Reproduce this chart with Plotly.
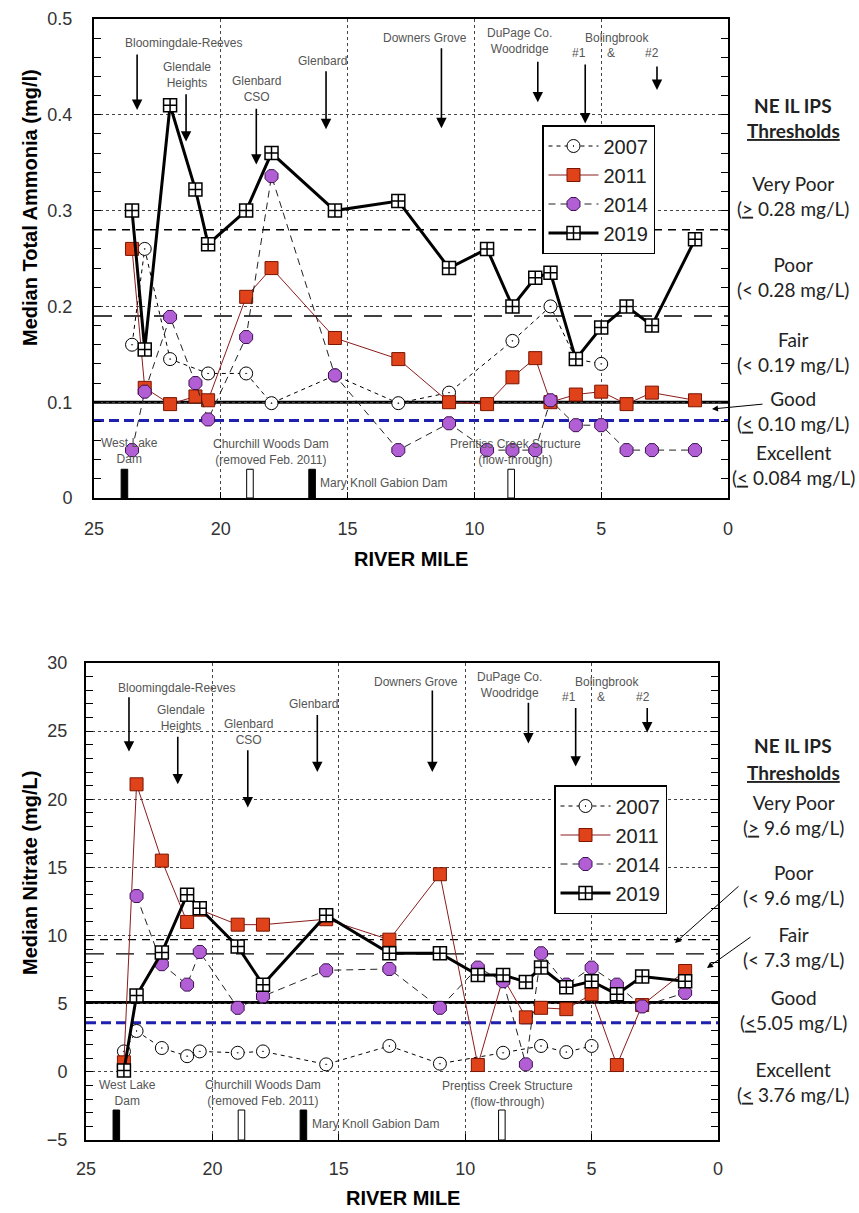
import plotly.graph_objects as go

W, H = 859, 1213

# ---------------- data ----------------
miles = [23.5, 23.0, 22.0, 21.0, 20.5, 19.0, 18.0, 15.5, 13.0, 11.0, 9.5, 8.5, 7.6, 7.0, 6.0, 5.0, 4.0, 3.0, 1.3]

# Ammonia (mg/l)
nh3_2007_miles = [23.5, 23.0, 22.0, 20.5, 19.0, 18.0, 15.5, 13.0, 11.0, 8.5, 7.0, 6.0, 5.0]
nh3_2007 = [0.16, 0.26, 0.145, 0.13, 0.13, 0.099, 0.128, 0.099, 0.11, 0.164, 0.20, 0.145, 0.14]
nh3_2011 = [0.26, 0.115, 0.098, 0.106, 0.102, 0.21, 0.24, 0.167, 0.145, 0.10, 0.098, 0.126, 0.146, 0.10, 0.108, 0.111, 0.098, 0.11, 0.102]
nh3_2014 = [0.05, 0.111, 0.189, 0.12, 0.082, 0.168, 0.336, 0.128, 0.05, 0.078, 0.05, 0.05, 0.05, 0.102, 0.076, 0.076, 0.05, 0.05, 0.05]
nh3_2019 = [0.30, 0.155, 0.41, 0.322, 0.265, 0.30, 0.36, 0.30, 0.31, 0.24, 0.26, 0.20, 0.23, 0.235, 0.145, 0.178, 0.20, 0.18, 0.27]
nh3_thresholds = [0.28, 0.19, 0.10, 0.081]

# Nitrate (mg/L)
no3_2007_miles = [23.5, 23.0, 22.0, 21.0, 20.5, 19.0, 18.0, 15.5, 13.0, 11.0, 8.5, 7.0, 6.0, 5.0]
no3_2007 = [1.5, 3.0, 1.75, 1.15, 1.5, 1.4, 1.5, 0.55, 1.9, 0.6, 1.4, 1.9, 1.45, 1.9]
no3_2011 = [0.7, 21.1, 15.5, 11.0, 11.9, 10.8, 10.8, 11.2, 9.7, 14.5, 0.5, 6.9, 4.0, 4.7, 4.6, 5.7, 0.5, 4.9, 7.4]
no3_2014_miles = [23.0, 22.0, 21.0, 20.5, 19.0, 18.0, 15.5, 13.0, 11.0, 9.5, 8.5, 7.6, 7.0, 6.0, 5.0, 4.0, 3.0, 1.3]
no3_2014 = [12.9, 7.9, 6.4, 8.8, 4.7, 5.55, 7.45, 7.55, 4.7, 7.65, 6.65, 0.55, 8.7, 6.4, 7.65, 6.4, 4.8, 5.8]
no3_2019 = [0.1, 5.6, 8.75, 13.0, 12.0, 9.2, 6.4, 11.5, 8.7, 8.7, 7.1, 7.1, 6.6, 7.65, 6.2, 6.65, 5.7, 7.0, 6.65]
no3_thresholds = [9.7, 8.65, 5.08, 3.6]

years = ["2007", "2011", "2014", "2019"]

# discharge / site locations (river mile) and dam locations
site_names = ["Bloomingdale-Reeves", "Glendale<br>Heights", "Glenbard<br>CSO", "Glenbard",
              "Downers Grove", "DuPage Co.<br>Woodridge", "#1", "#2"]
site_miles = [23.3, 21.37, 18.6, 15.85, 11.3, 7.5, 5.63, 2.8]
dam_miles = [23.8, 18.85, 16.4, 8.55]
dam_filled = [True, False, True, False]

x_ticks = [25, 20, 15, 10, 5, 0]

# ---------------- styles ----------------
styles = {
    "2007": dict(line=dict(color="black", width=1, dash="4px,4px"),
                 marker=dict(symbol="circle-dot", size=13, color="white", line=dict(color="black", width=1))),
    "2011": dict(line=dict(color="#8b1c1c", width=1),
                 marker=dict(symbol="square", size=13, color="#e0421a", line=dict(color="#7a1500", width=1))),
    "2014": dict(line=dict(color="#222", width=1, dash="7px,5px"),
                 marker=dict(symbol="octagon", size=14, color="#b25ed4", line=dict(color="#3a1050", width=1))),
    "2019": dict(line=dict(color="black", width=3),
                 marker=dict(symbol="square-cross", size=13, color="white", line=dict(color="black", width=1.5))),
}

fig = go.Figure()

def add_series(xs, ys, year, xa, ya, legend):
    st = styles[year]
    fig.add_trace(go.Scatter(x=xs, y=ys, mode="lines+markers", name=year,
                             line=st["line"], marker=st["marker"],
                             xaxis=xa, yaxis=ya, legend=legend))

add_series(nh3_2007_miles, nh3_2007, "2007", "x", "y", "legend")
add_series(miles, nh3_2011, "2011", "x", "y", "legend")
add_series(miles, nh3_2014, "2014", "x", "y", "legend")
add_series(miles, nh3_2019, "2019", "x", "y", "legend")

add_series(no3_2007_miles, no3_2007, "2007", "x2", "y2", "legend2")
add_series(miles, no3_2011, "2011", "x2", "y2", "legend2")
add_series(no3_2014_miles, no3_2014, "2014", "x2", "y2", "legend2")
add_series(miles, no3_2019, "2019", "x2", "y2", "legend2")

# ---------------- layout helpers ----------------
def fx(p):
    return p / W

def fy(p):
    return 1 - p / H

TICKFONT = dict(family="Liberation Sans, Arial", size=18, color="#333")

def xaxis(dom, anchor, standoff):
    return dict(domain=dom, anchor=anchor, range=[25, 0], tickvals=x_ticks, automargin=False,
                showgrid=True, gridcolor="#444", griddash="dot", gridwidth=1,
                zeroline=False, showline=True, linecolor="black", linewidth=2, mirror=True,
                ticks="inside", ticklen=6, tickcolor="black", tickfont=TICKFONT,
                ticklabelstandoff=standoff)

def yaxis(dom, anchor, rng, dtick, minor, standoff):
    return dict(domain=dom, anchor=anchor, range=rng, dtick=dtick, automargin=False,
                showgrid=True, gridcolor="#444", griddash="dot", gridwidth=1,
                zeroline=False, showline=True, linecolor="black", linewidth=2, mirror="allticks",
                ticks="inside", ticklen=7, tickcolor="black", tickwidth=1.3, tickfont=TICKFONT,
                minor=dict(dtick=minor, ticks="inside", ticklen=7, tickcolor="black", tickwidth=1.3, showgrid=False),
                ticklabelstandoff=standoff)

shapes = []
annotations = []

threshold_styles = [dict(color="black", width=1.3, dash="8px,6px"),
                    dict(color="black", width=1.3, dash="18px,12px"),
                    dict(color="black", width=3, dash="solid"),
                    dict(color="#1f1fb0", width=3, dash="10px,5px")]

def add_thresholds(vals, xref, yref):
    for v, st in zip(vals, threshold_styles):
        shapes.append(dict(type="line", xref=xref + " domain", yref=yref, x0=0, x1=1, y0=v, y1=v,
                           line=st, layer="below"))

add_thresholds(nh3_thresholds, "x", "y")
add_thresholds(no3_thresholds, "x2", "y2")

def add_dams(xref, yref, y0, y1):
    for m, filled in zip(dam_miles, dam_filled):
        shapes.append(dict(type="rect", xref=xref, yref=yref, x0=m - 0.13, x1=m + 0.13, y0=y0, y1=y1,
                           fillcolor="black" if filled else "white",
                           line=dict(color="black", width=1), layer="above"))

add_dams("x", "y", 0, 0.03)
add_dams("x2", "y2", -5, -2.8)

SITEFONT = dict(family="Liberation Sans, Arial", size=12, color="#555")

def text(px, py, t, font, xanchor="center"):
    annotations.append(dict(x=fx(px), y=fy(py), xref="paper", yref="paper", text=t, showarrow=False,
                            font=font, xanchor=xanchor, yanchor="middle", align="center"))

def arrow(xref, yref, mile, tail, head):
    annotations.append(dict(x=mile, y=head, ax=mile, ay=tail, xref=xref, yref=yref, axref=xref, ayref=yref,
                            text="", showarrow=True, arrowhead=2, arrowsize=1.3, arrowwidth=1.6,
                            arrowcolor="black"))

# site labels - top
top_site_label_pos = [(183, 43), (187, 75), (256, 89), (322, 61), (425, 38), (519, 41), (579, 53), (652, 53)]
top_arrow = [(0.4645, 0.405), (0.423, 0.372), (0.408, 0.348), (0.447, 0.385), (0.471, 0.386),
             (0.457, 0.413), (0.454, 0.391), (0.452, 0.426)]
for name, (px, py), m, (t, h) in zip(site_names, top_site_label_pos, site_miles, top_arrow):
    text(px, py, name, SITEFONT)
    arrow("x", "y", m, t, h)
text(617, 38, "Bolingbrook", SITEFONT)
text(611, 53, "&", SITEFONT)

bot_site_label_pos = [(176, 688), (181, 718), (248, 732), (313, 704), (416, 682), (509, 685), (569, 697), (643, 697)]
bot_arrow = [(27.6, 23.5), (24.7, 21.1), (23.7, 19.4), (26.3, 22.0), (28.1, 22.0),
             (27.2, 24.1), (26.8, 22.4), (26.8, 24.9)]
for name, (px, py), m, (t, h) in zip(site_names, bot_site_label_pos, site_miles, bot_arrow):
    text(px, py, name, SITEFONT)
    arrow("x2", "y2", m, t, h)
text(607, 682, "Bolingbrook", SITEFONT)
text(601, 697, "&", SITEFONT)

# dam labels
text(99, 451, "West Lake<br>Dam", SITEFONT, xanchor="left")
text(271, 452, "Churchill Woods Dam<br>(removed Feb. 2011)", SITEFONT)
text(318, 483, "Mary Knoll Gabion Dam", SITEFONT, xanchor="left")
text(515, 452, "Prentiss Creek Structure<br>(flow-through)", SITEFONT)

text(97, 1093, "West Lake<br>Dam", SITEFONT, xanchor="left")
text(263, 1093, "Churchill Woods Dam<br>(removed Feb. 2011)", SITEFONT)
text(310, 1124, "Mary Knoll Gabion Dam", SITEFONT, xanchor="left")
text(507, 1094, "Prentiss Creek Structure<br>(flow-through)", SITEFONT)

# threshold text on the right
RFONT = dict(family="Lato, Carlito, Calibri", size=19, color="#222")
text(793, 105, "<b>NE IL IPS</b>", RFONT)
text(793, 131, "<b><u>Thresholds</u></b>", RFONT)
text(793, 196, "Very Poor<br>(<u>&gt;</u> 0.28 mg/L)", RFONT)
text(793, 277, "Poor<br>(&lt; 0.28 mg/L)", RFONT)
text(793, 352, "Fair<br>(&lt; 0.19 mg/L)", RFONT)
text(793, 411, "Good<br>(<u>&lt;</u> 0.10 mg/L)", RFONT)
text(793, 465, "Excellent<br>(<u>&lt;</u> 0.084 mg/L)", RFONT)

text(793, 745, "<b>NE IL IPS</b>", RFONT)
text(793, 773, "<b><u>Thresholds</u></b>", RFONT)
text(793, 815, "Very Poor<br>(<u>&gt;</u> 9.6 mg/L)", RFONT)
text(793, 885, "Poor<br>(&lt; 9.6 mg/L)", RFONT)
text(793, 947, "Fair<br>(&lt; 7.3 mg/L)", RFONT)
text(793, 1010, "Good<br>(<u>&lt;</u>5.05 mg/L)", RFONT)
text(793, 1082, "Excellent<br>(<u>&lt;</u> 3.76 mg/L)", RFONT)

# pointer arrows (paper coords for head, pixel offset for tail)
def parrow(x0, y0, x1, y1, w=1):
    annotations.append(dict(x=fx(x1), y=fy(y1), ax=x0 - x1, ay=y0 - y1, xref="paper", yref="paper",
                            axref="pixel", ayref="pixel", text="", showarrow=True, arrowhead=2,
                            arrowsize=1.2, arrowwidth=w, arrowcolor="black"))

parrow(764, 404, 712, 409)
parrow(740, 885, 675, 943)
parrow(752, 936, 707, 968)

# axis titles
TFONT = dict(family="Liberation Sans, Arial", size=20, color="black")
annotations.append(dict(x=fx(30), y=fy(208), xref="paper", yref="paper", text="<b>Median Total Ammonia (mg/l)</b>",
                        textangle=-90, showarrow=False, font=TFONT, xanchor="center", yanchor="middle"))
annotations.append(dict(x=fx(30), y=fy(873), xref="paper", yref="paper", text="<b>Median Nitrate (mg/L)</b>",
                        textangle=-90, showarrow=False, font=TFONT, xanchor="center", yanchor="middle"))
text(411, 559, "<b>RIVER MILE</b>", TFONT)
text(403, 1198, "<b>RIVER MILE</b>", TFONT)

LEGFONT = dict(family="Liberation Sans, Arial", size=20, color="#222")

fig.update_layout(
    width=W, height=H, autosize=False,
    margin=dict(l=0, r=0, t=0, b=0, autoexpand=False),
    paper_bgcolor="white", plot_bgcolor="white",
    xaxis=xaxis([fx(94), fx(728)], "y", 13),
    yaxis=yaxis([fy(498), fy(19)], "x", [0, 0.5], 0.1, 0.02, 16),
    xaxis2=xaxis([fx(86), fx(718)], "y2", 11),
    yaxis2=yaxis([fy(1140), fy(663)], "x2", [-5, 30], 5, 1, 13),
    legend=dict(x=fx(542), y=fy(125), xanchor="left", yanchor="top", bordercolor="black", borderwidth=1.5,
                bgcolor="white", font=LEGFONT, itemwidth=50, tracegroupgap=0),
    legend2=dict(x=fx(554), y=fy(785), xanchor="left", yanchor="top", bordercolor="black", borderwidth=1.5,
                 bgcolor="white", font=LEGFONT, itemwidth=50, tracegroupgap=0),
    shapes=shapes,
    annotations=annotations,
)

fig.write_html("out.html")
